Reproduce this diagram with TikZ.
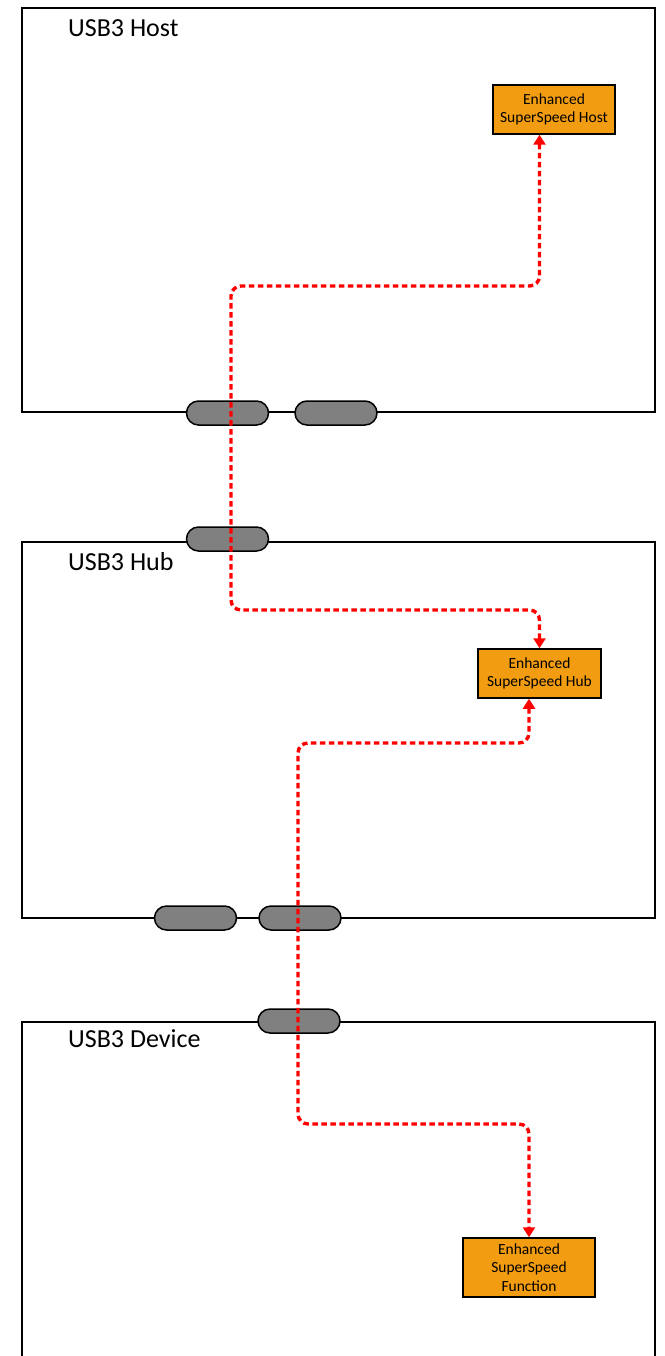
\documentclass[tikz,border=0pt]{standalone}
\usepackage{fontspec}
\setmainfont{Carlito}
\usepackage{tikz}
\usetikzlibrary{positioning}
\usetikzlibrary{shapes.misc,arrows.meta}
\definecolor{fnorange}{RGB}{242,156,17}
\definecolor{portgray}{RGB}{128,128,128}
\tikzstyle{unit} = [draw, line width=2pt]
\tikzstyle{unitlabel} = [anchor=base west, inner sep=0pt,
    font=\fontsize{26}{31}\selectfont]
\tikzstyle{port} = [rounded rectangle, draw, fill=portgray, line width=1.5pt,
    minimum width=82pt, minimum height=24pt, inner sep=0pt]
\tikzstyle{fn} = [rectangle, draw, fill=fnorange, line width=1.5pt, align=center,
    inner sep=0pt, font=\fontsize{15.5}{18.7}\selectfont]
\tikzstyle{link} = [draw, red, line width=3.4pt, dash pattern=on 5.5pt off 3.5pt,
    rounded corners=10pt, {Triangle[width=12pt,length=10pt]}-{Triangle[width=12pt,length=10pt]}]

\begin{document}
\begin{tikzpicture}[x=1pt, y=-1pt]
        \useasboundingbox (0,0) rectangle (664,1356);
        % units
        \draw [unit] (22,8) rectangle (655,412);
        \draw [unit] (22,542) rectangle (655,918);
        \draw [unit] (22,1356) -- (22,1022) -- (655,1022) -- (655,1356);
        \node [unitlabel] (hostlbl) at (68,37) {USB3 Host};
        \node [unitlabel] (hublbl) at (68,570) {USB3 Hub};
        \node [unitlabel] (devlbl) at (68,1047) {USB3 Device};
        % ports
        \node [port] (hostp1) at (227.5,413) {};
        \node [port, right = 25pt of hostp1] (hostp2) {};
        \node [port] (hubup) at (227.5,539) {};
        \node [port] (hubdn1) at (195.5,918) {};
        \node [port, right = 21pt of hubdn1] (hubdn2) {};
        \node [port] (devup) at (299,1021) {};
        % functions
        \node [fn, minimum width=122pt, minimum height=49pt] (hostfn) at (554,109.5) {Enhanced\\SuperSpeed Host};
        \node [fn, minimum width=123pt, minimum height=49pt] (hubfn) at (539.5,673.5) {Enhanced\\SuperSpeed Hub};
        \node [fn, minimum width=132pt, minimum height=59pt] (devfn) at (529,1267.5) {Enhanced\\SuperSpeed\\Function};
        % edges
        \path [link] (hubfn.north) -- (hubfn.north |- 0,610) -| (231,286) -| (hostfn.south -| hubfn.north);
        \path [link] (devfn.north |- hubfn.south) -- (devfn.north |- 0,743) -| (298,1124) -| (devfn.north);
    \end{tikzpicture}
\end{document}
